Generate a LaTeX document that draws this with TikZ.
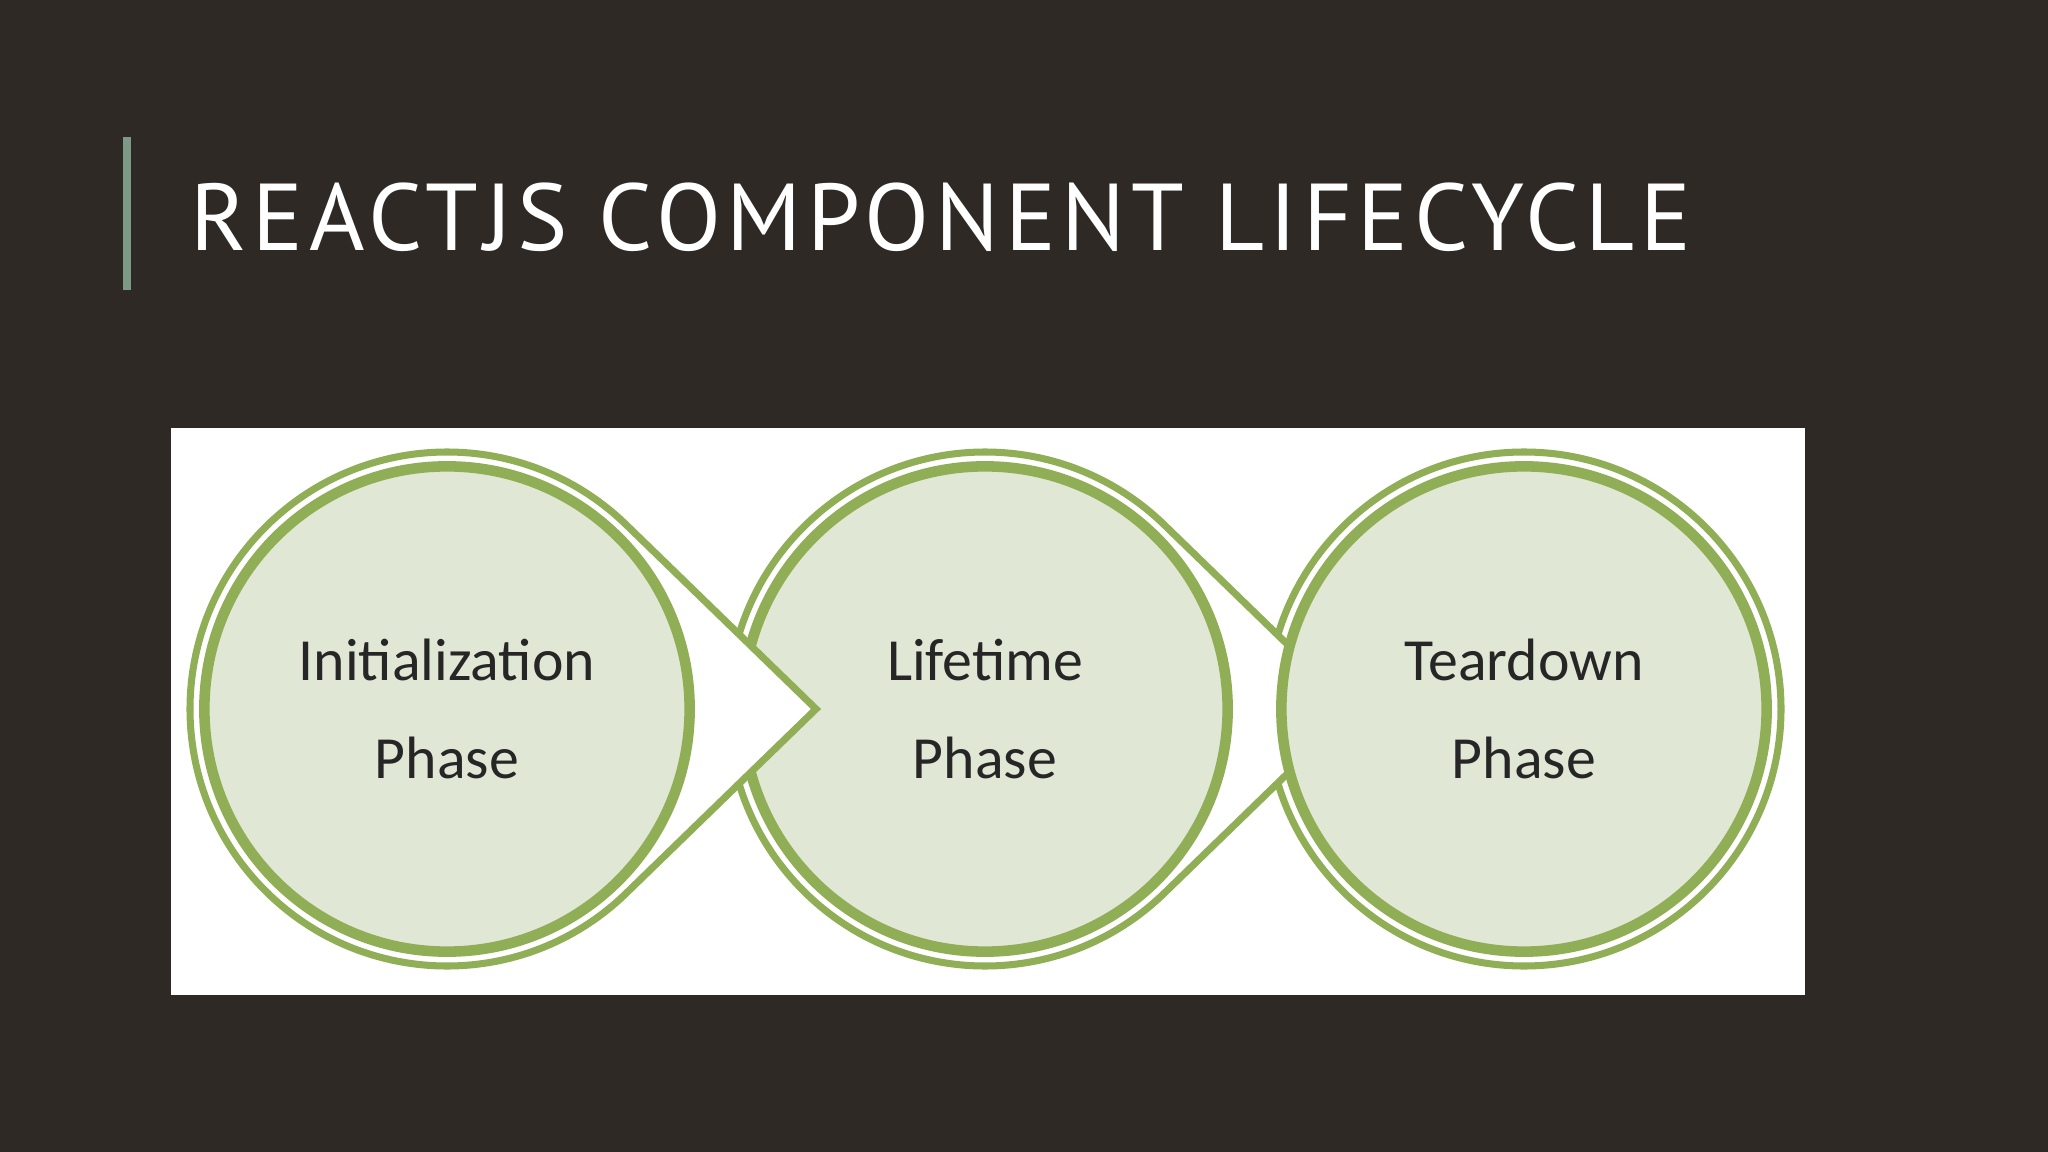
\documentclass[tikz,border=0pt]{standalone}
\usepackage{fontspec}
\setmainfont{Carlito}
\newfontfamily\titlefont[LetterSpace=6]{PT Sans}
\usetikzlibrary{positioning}
\definecolor{SlideBg}{HTML}{2E2924}
\definecolor{RuleGreen}{HTML}{7C9A86}
\definecolor{PhaseGreen}{HTML}{8FAE55}
\definecolor{PhaseFill}{HTML}{E1E7D5}
\definecolor{PanelWhite}{HTML}{FFFFFF}

\tikzset{
  phase/.style={circle, draw=PhaseGreen, line width=3pt, fill=PhaseFill,
    minimum size=4.85cm, align=center, font=\fontsize{17}{28}\selectfont, text=black!85},
  drop/.style={draw=PhaseGreen, line width=2pt, fill=white},
}

\begin{document}
\begin{tikzpicture}[x=0.01cm, y=-0.01cm]
  % background
  \fill[SlideBg] (0,0) rectangle (2048,1152);
  \useasboundingbox (0,0) rectangle (2048,1152);
  \draw[RuleGreen, line width=2pt] (127,137) -- (127,290);
  \node[anchor=west, text=white, font=\titlefont\fontsize{27}{30}\selectfont, inner sep=0pt] (title) at (190,217) {REACTJS COMPONENT LIFECYCLE};
  \fill[PanelWhite] (171,428) rectangle (1805,995);

  % outer rings, drawn right to left
  \draw[drop] (1524,709) circle (257);
  \draw[drop] (985,709) ++(46:257) arc (46:314:257) -- (1354,709) -- cycle;
  \node[phase] (teardown) at (1524,709) {Teardown\\Phase};
  \node[phase] (lifetime) at (985,709) {Lifetime\\Phase};
  \draw[drop] (447,709) ++(46:257) arc (46:314:257) -- (816,709) -- cycle;
  \node[phase] (init) at (447,709) {Initialization\\Phase};
\end{tikzpicture}
\end{document}
